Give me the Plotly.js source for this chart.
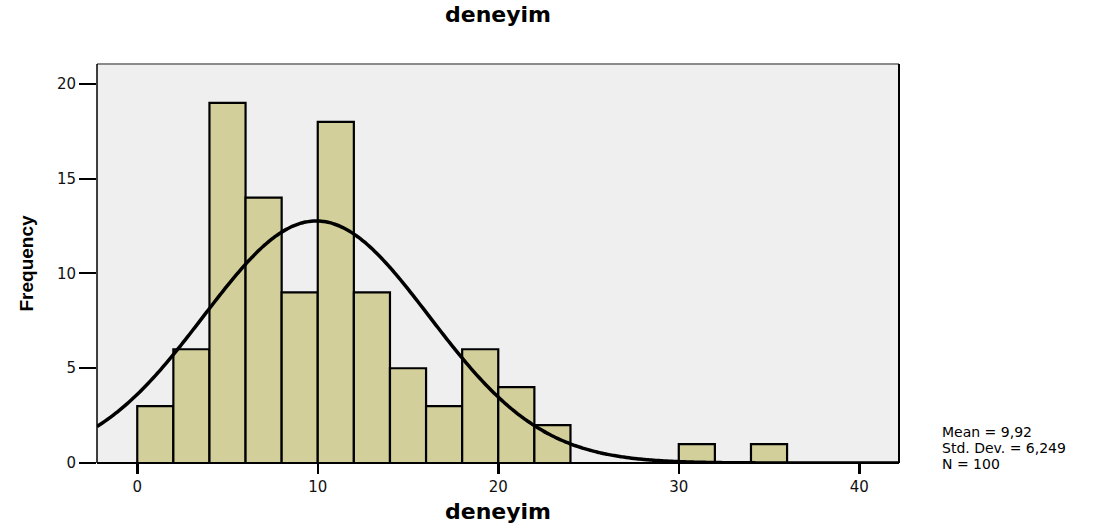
<!DOCTYPE html>
<html>
<head>
<meta charset="utf-8">
<script src="https://cdn.plot.ly/plotly-3.0.1.min.js"></script>
<style>html,body{margin:0;padding:0;background:#fff;}#chart{width:1106px;height:526px;}</style>
</head>
<body>
<div id="chart"></div>
<script>
// Histogram bins (start of each bin, width 2) and frequencies
const binStarts = [0, 2, 4, 6, 8, 10, 12, 14, 16, 18, 20, 22, 30, 34];
const counts    = [3, 6, 19, 14, 9, 18, 9, 5, 3, 6, 4, 2, 1, 1];
const binWidth = 2;
// Summary statistics shown in the chart
const statMean = 9.92;
const statSD = 6.249;
const statN = 100;
const statLabels = ['Mean = 9,92', 'Std. Dev. = 6,249', 'N = 100'];
const xTicks = [0, 10, 20, 30, 40];
const yTicks = [0, 5, 10, 15, 20];

const xRange = [-2.23, 42.2];
const yRange = [0, 21.05];

const centers = binStarts.map(s => s + binWidth / 2);

// Normal curve defined by mean, SD and N (scaled to bin width)
const curveX = [], curveY = [];
const steps = 300;
for (let i = 0; i <= steps; i++) {
  const x = xRange[0] + (xRange[1] - xRange[0]) * i / steps;
  const z = (x - statMean) / statSD;
  curveX.push(x);
  curveY.push(statN * binWidth * Math.exp(-0.5 * z * z) / (statSD * Math.sqrt(2 * Math.PI)));
}

const data = [
  {
    type: 'bar',
    x: centers,
    y: counts,
    width: binStarts.map(() => binWidth),
    marker: {color: '#d3cf9a', line: {color: '#000', width: 2.2}},
    hoverinfo: 'x+y',
    showlegend: false
  },
  {
    type: 'scatter',
    mode: 'lines',
    x: curveX,
    y: curveY,
    line: {color: '#000', width: 3.5, shape: 'spline'},
    hoverinfo: 'skip',
    showlegend: false
  }
];

const wideFont = 'DejaVu Sans, Verdana, sans-serif';
const tickFont = {family: wideFont, size: 15, color: '#111'};

const statY = [0.0777, 0.0376, -0.0025];
const annotations = statLabels.map((t, i) => ({
  xref: 'paper', yref: 'paper', x: 1.051, y: statY[i], xanchor: 'left', yanchor: 'middle',
  align: 'left', showarrow: false, text: t,
  font: {family: wideFont, size: 14, color: '#000'}
}));

const layout = {
  width: 1106, height: 526,
  margin: {l: 97, r: 207, t: 64, b: 63},
  paper_bgcolor: '#ffffff',
  plot_bgcolor: '#efefef',
  title: {
    text: '<b>deneyim</b>',
    x: 0.5, xref: 'paper', xanchor: 'center',
    y: 0.972, yref: 'container', yanchor: 'middle',
    font: {family: wideFont, size: 22, color: '#000'}
  },
  bargap: 0,
  xaxis: {
    range: xRange,
    tickvals: xTicks,
    ticktext: xTicks.map(String),
    ticks: 'outside', ticklen: 10, tickwidth: 2.5, tickcolor: '#000',
    showgrid: false, zeroline: false,
    showline: false,
    tickfont: tickFont,
    title: {text: '<b>deneyim</b>', standoff: 8,
      font: {family: wideFont, size: 22, color: '#000'}}
  },
  yaxis: {
    range: yRange,
    tickvals: yTicks,
    ticktext: yTicks.map(String),
    ticks: 'outside', ticklen: 17, tickwidth: 2, tickcolor: '#000',
    showgrid: false, zeroline: false,
    showline: false,
    tickfont: tickFont,
    title: {text: '<b>Frequency</b>', standoff: 18,
      font: {family: 'Liberation Sans, Arial, sans-serif', size: 19, color: '#000'}}
  },
  shapes: [
    {type: 'line', xref: 'paper', yref: 'paper', x0: 0, x1: 1, y0: 1, y1: 1, line: {color: '#8a8a8a', width: 2}},
    {type: 'line', xref: 'paper', yref: 'paper', x0: 0, x1: 0, y0: 0, y1: 1, line: {color: '#000', width: 1.5}},
    {type: 'line', xref: 'paper', yref: 'paper', x0: 1, x1: 1, y0: 0, y1: 1, line: {color: '#000', width: 2}},
    {type: 'line', xref: 'paper', yref: 'paper', x0: 0, x1: 1, y0: 0, y1: 0, line: {color: '#000', width: 2}}
  ],
  annotations: annotations
};

Plotly.newPlot('chart', data, layout, {displayModeBar: false, staticPlot: true});
</script>
</body>
</html>
